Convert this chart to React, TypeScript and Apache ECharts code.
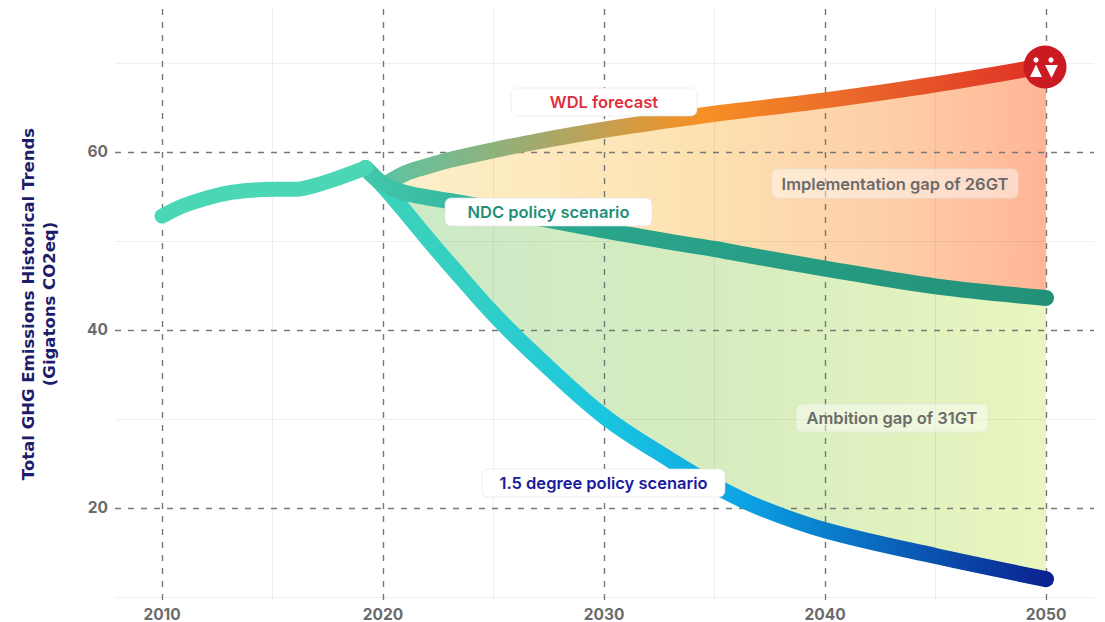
import React, { useEffect, useRef } from "react";
import * as echarts from "echarts";

const historyYears = [2010, 2011, 2012, 2013, 2014, 2015, 2016, 2017, 2018, 2019.2];
const historyValues = [52.8, 54, 54.8, 55.4, 55.7, 55.8, 55.8, 56.3, 57.1, 58.2];

const forecastYears = [2020, 2021, 2022, 2023, 2025, 2027, 2030, 2033, 2035, 2037, 2040, 2045, 2050];
const wdlValues = [56.2, 57.6, 58.4, 59.1, 60.2, 61.2, 62.5, 63.6, 64.3, 64.9, 65.8, 67.6, 69.7];
const ndcValues = [56.4, 55.4, 54.9, 54.5, 53.6, 52.6, 51.2, 49.9, 49.1, 48.2, 46.9, 44.9, 43.6];
const degreeValues = [56.2, 53.3, 50.3, 47.4, 41.8, 36.9, 30.3, 25.4, 22.5, 20.1, 17.5, 14.6, 12];

const majorX = [2010, 2020, 2030, 2040, 2050];
const minorX = [2015, 2025, 2035, 2045];
const majorY = [20, 40, 60];
const minorY = [10, 30, 50, 70];

const pair = (xs: number[], ys: number[]) => xs.map((x, i) => [x, ys[i]]);
const hgrad = (stops: [number, string][]) => ({
  type: "linear", x: 0, y: 0, x2: 1, y2: 0,
  colorStops: stops.map(([offset, color]) => ({ offset, color })),
});

const FONT = "Inter, 'Open Sans', sans-serif";

function box(x: number, y: number, w: number, h: number, text: string, color: string, bg: string) {
  return {
    type: "group",
    children: [
      { type: "rect", z: 20, x, y, shape: { x: 0, y: 0, width: w, height: h, r: 6 }, style: { fill: bg, stroke: "rgba(225,225,225,0.6)", lineWidth: 1 } },
      {
        type: "text", z: 21, x: x + w / 2, y: y + h / 2,
        style: { text, fill: color, font: `600 16.5px ${FONT}`, textAlign: "center", textVerticalAlign: "middle" },
      },
    ],
  };
}

function band(name: string, lower: number[], upper: number[], fill: any) {
  return {
    type: "custom", name, silent: true, z: 1, clip: false,
    encode: { x: 0, y: 1 },
    data: pair(forecastYears, upper),
    renderItem: (params: any, api: any) => {
      if (params.dataIndex !== 0) return null;
      const top = forecastYears.map((x, i) => api.coord([x, upper[i]]));
      const bottom = forecastYears.map((x, i) => api.coord([x, lower[i]])).reverse();
      return { type: "polygon", shape: { points: [...top, ...bottom] }, style: { fill } };
    },
  };
}

export default function App() {
  const ref = useRef<HTMLDivElement>(null);
  useEffect(() => {
    const chart = echarts.init(ref.current!, undefined, { renderer: "svg" });
    const lineBase = {
      type: "line", showSymbol: false, symbol: "none", smooth: 0.35, silent: true, z: 4,
    };
    chart.setOption({
      animation: false,
      backgroundColor: "#ffffff",
      grid: { left: 115, right: 11, top: 8, bottom: 22 },
      xAxis: {
        type: "value", min: 2007.87, max: 2052.17,
        axisLine: { show: false }, axisTick: { show: false }, splitLine: { show: false },
        axisLabel: {
          customValues: majorX, color: "#6b6b6b", fontFamily: FONT, fontWeight: 700, fontSize: 15.5, margin: 6,
          formatter: (v: number) => String(v),
        },
      },
      yAxis: {
        type: "value", min: 9.66, max: 76.18,
        name: "Total GHG Emissions Historical Trends\n(Gigatons CO2eq)",
        nameLocation: "middle", nameRotate: 90, nameGap: 55,
        nameTextStyle: { color: "#1d1d6b", fontFamily: "'DejaVu Sans'", fontWeight: 700, fontSize: 16.5, lineHeight: 21 },
        axisLine: { show: false }, axisTick: { show: false }, splitLine: { show: false },
        axisLabel: {
          customValues: majorY, color: "#6b6b6b", fontFamily: FONT, fontWeight: 700, fontSize: 15.5, margin: 7,
          formatter: (v: number) => String(v),
        },
      },
      series: [
        band("Ambition gap", degreeValues, ndcValues, hgrad([[0, "#cbeac8"], [0.5, "#d6ecbf"], [1, "#e9f6bf"]])),
        band("Implementation gap", ndcValues, wdlValues, hgrad([[0, "#fdf0cb"], [0.45, "#fde3b2"], [0.75, "#fdd0a8"], [1, "#ffb596"]])),
        {
          type: "line", name: "grid", data: [], z: 2, silent: true,
          markLine: {
            silent: true, symbol: "none", label: { show: false }, z: 2,
            lineStyle: { color: "rgba(0,0,0,0.06)", type: "solid", width: 1 },
            data: [...minorX.map((xAxis) => ({ xAxis })), ...minorY.map((yAxis) => ({ yAxis }))],
          },
        },
        {
          type: "line", name: "grid2", data: [], z: 3, silent: true,
          markLine: {
            silent: true, symbol: "none", label: { show: false }, z: 3,
            lineStyle: { color: "#777777", type: [6, 7], width: 1.4 },
            data: [...majorX.map((xAxis) => ({ xAxis })), ...majorY.map((yAxis) => ({ yAxis }))],
          },
        },
        {
          ...lineBase, name: "WDL forecast", data: pair(forecastYears, wdlValues),
          lineStyle: {
            width: 16, cap: "round", join: "round",
            color: hgrad([[0, "#5cc4a4"], [0.25, "#a8a868"], [0.48, "#f79023"], [0.7, "#ea6a2a"], [1, "#df2f26"]]),
          },
        },
        {
          ...lineBase, name: "1.5 degree policy scenario", data: pair([2019.2, ...forecastYears], [58.2, ...degreeValues]),
          lineStyle: {
            width: 16, cap: "round", join: "round",
            color: hgrad([[0, "#3dd2b8"], [0.15, "#33d0c4"], [0.35, "#1ac6e0"], [0.55, "#0ca4e4"], [0.7, "#0a78c8"], [1, "#0a2390"]]),
          },
        },
        {
          ...lineBase, name: "NDC policy scenario", data: pair([2019.2, ...forecastYears], [58.2, ...ndcValues]),
          lineStyle: {
            width: 16, cap: "round", join: "round",
            color: hgrad([[0, "#41c7ac"], [0.3, "#2aa78e"], [1, "#239178"]]),
          },
        },
        {
          ...lineBase, name: "Historical", data: pair(historyYears, historyValues),
          lineStyle: { width: 15, cap: "round", join: "round", color: "#4bd6b6" },
        },
      ],
      graphic: [
        box(511, 88, 186, 28, "WDL forecast", "#e0303c", "#ffffff"),
        box(445, 198, 207, 28, "NDC policy scenario", "#1f8f7a", "#ffffff"),
        box(482, 469, 243, 28, "1.5 degree policy scenario", "#1a1a9c", "#ffffff"),
        box(772, 169, 246, 29, "Implementation gap of 26GT", "#6b6b6b", "rgba(255,255,255,0.45)"),
        box(796, 404, 192, 28, "Ambition gap of 31GT", "#6b6b6b", "rgba(255,255,255,0.45)"),
        { type: "circle", z: 30, shape: { cx: 1045, cy: 67, r: 21.5 }, style: { fill: "#cb1a22" } },
        { type: "circle", z: 31, shape: { cx: 1036, cy: 60, r: 2.6 }, style: { fill: "#ffffff" } },
        { type: "circle", z: 31, shape: { cx: 1051, cy: 60, r: 2.6 }, style: { fill: "#ffffff" } },
        { type: "polygon", z: 31, shape: { points: [[1036, 64.5], [1030, 77], [1042, 77]] }, style: { fill: "#ffffff" } },
        { type: "polygon", z: 31, shape: { points: [[1045, 65], [1058, 65], [1051.5, 78]] }, style: { fill: "#ffffff" } },
      ],
    });
    return () => chart.dispose();
  }, []);
  return <div ref={ref} style={{ position: "fixed", left: 0, top: 0, width: 1105, height: 622 }} />;
}
